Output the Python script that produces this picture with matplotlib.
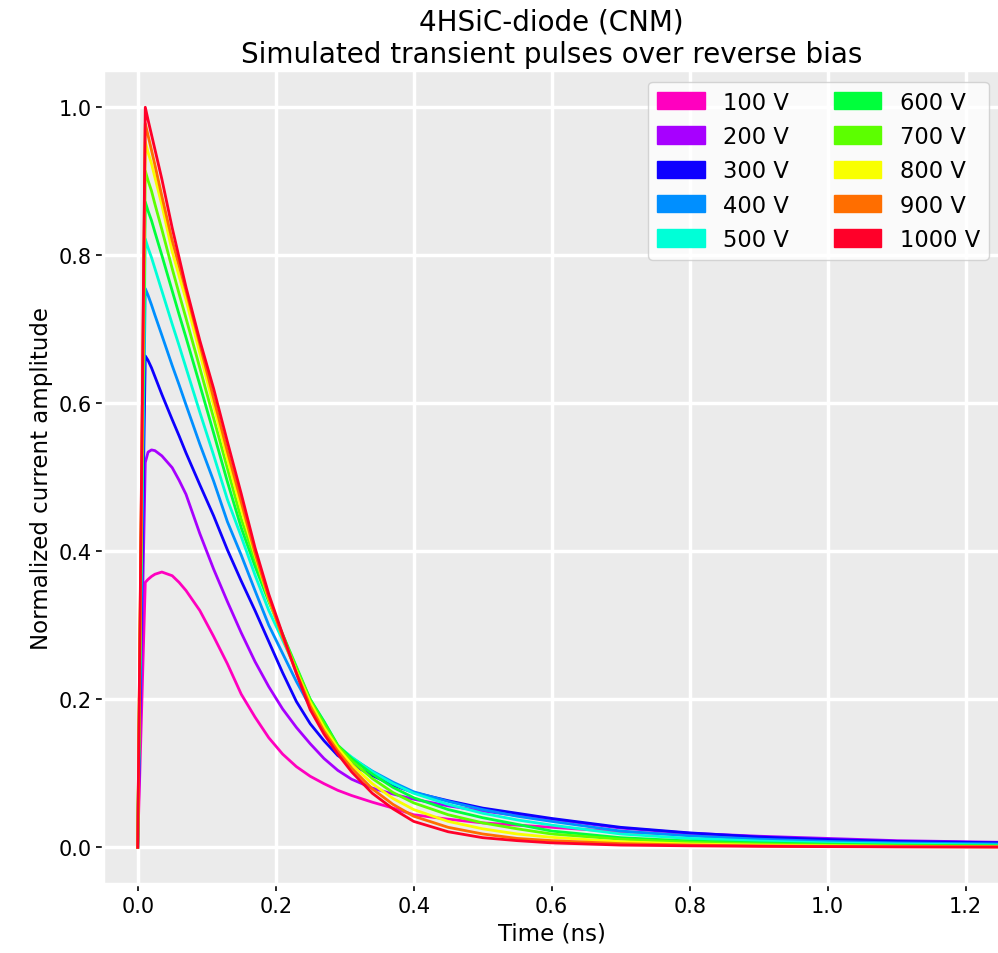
import matplotlib.pyplot as plt
import matplotlib.patches as mpatches
import numpy as np

plt.rcParams["font.family"] = ["DejaVu Sans"]

# values (time in ns, normalized amplitude)
time_ns = [0, 0.011, 0.015, 0.02, 0.025, 0.035, 0.05, 0.06, 0.07, 0.09, 0.11,
           0.13, 0.15, 0.17, 0.19, 0.21, 0.23, 0.25, 0.27, 0.29, 0.31, 0.34,
           0.37, 0.40, 0.45, 0.50, 0.55, 0.60, 0.70, 0.80, 0.90, 1.00, 1.10, 1.25]

amp_100v = [0, 0.358, 0.362, 0.366, 0.369, 0.372, 0.367, 0.358, 0.347, 0.320, 0.285,
            0.248, 0.207, 0.176, 0.148, 0.126, 0.109, 0.096, 0.086, 0.077, 0.070, 0.061,
            0.053, 0.044, 0.038, 0.033, 0.030, 0.027, 0.021, 0.0165, 0.013, 0.010, 0.008, 0.006]
amp_200v = [0, 0.520, 0.534, 0.537, 0.536, 0.529, 0.513, 0.496, 0.477, 0.424, 0.376,
            0.332, 0.290, 0.251, 0.217, 0.187, 0.162, 0.140, 0.120, 0.104, 0.092, 0.080,
            0.072, 0.065, 0.056, 0.049, 0.043, 0.038, 0.026, 0.019, 0.015, 0.012, 0.009, 0.0068]
amp_300v = [0, 0.664, 0.658, 0.648, 0.636, 0.612, 0.578, 0.556, 0.533, 0.490, 0.448,
            0.402, 0.360, 0.320, 0.278, 0.236, 0.197, 0.167, 0.144, 0.124, 0.112, 0.097,
            0.084, 0.074, 0.063, 0.053, 0.046, 0.039, 0.027, 0.0195, 0.014, 0.0105, 0.008, 0.0062]
amp_400v = [0, 0.755, 0.746, 0.733, 0.719, 0.692, 0.651, 0.625, 0.598, 0.545, 0.495,
            0.440, 0.395, 0.347, 0.300, 0.262, 0.224, 0.190, 0.163, 0.135, 0.121, 0.103,
            0.088, 0.075, 0.062, 0.051, 0.042, 0.035, 0.022, 0.0155, 0.011, 0.008, 0.006, 0.0045]
amp_500v = [0, 0.822, 0.810, 0.797, 0.782, 0.752, 0.707, 0.678, 0.648, 0.588, 0.530,
            0.470, 0.420, 0.368, 0.320, 0.280, 0.240, 0.200, 0.170, 0.137, 0.122, 0.102,
            0.086, 0.073, 0.058, 0.046, 0.037, 0.030, 0.018, 0.012, 0.0085, 0.006, 0.0045, 0.003]
amp_600v = [0, 0.872, 0.860, 0.847, 0.831, 0.800, 0.752, 0.720, 0.689, 0.625, 0.560,
            0.494, 0.432, 0.380, 0.332, 0.288, 0.244, 0.200, 0.170, 0.138, 0.120, 0.099,
            0.081, 0.067, 0.051, 0.040, 0.031, 0.022, 0.013, 0.0085, 0.006, 0.0042, 0.003, 0.002]
amp_700v = [0, 0.914, 0.901, 0.887, 0.869, 0.835, 0.782, 0.748, 0.715, 0.648, 0.580,
            0.512, 0.444, 0.389, 0.335, 0.287, 0.242, 0.199, 0.167, 0.137, 0.117, 0.093,
            0.074, 0.060, 0.044, 0.033, 0.025, 0.018, 0.011, 0.0068, 0.0045, 0.003, 0.002, 0.0013]
amp_800v = [0, 0.953, 0.939, 0.924, 0.905, 0.868, 0.805, 0.772, 0.740, 0.668, 0.597,
            0.525, 0.457, 0.395, 0.335, 0.285, 0.238, 0.196, 0.162, 0.134, 0.112, 0.086,
            0.066, 0.051, 0.035, 0.025, 0.018, 0.0135, 0.0075, 0.0045, 0.003, 0.002, 0.0013, 0.0008]
amp_900v = [0, 0.978, 0.962, 0.942, 0.922, 0.880, 0.820, 0.786, 0.752, 0.680, 0.607,
            0.535, 0.467, 0.398, 0.337, 0.284, 0.236, 0.191, 0.157, 0.130, 0.107, 0.079,
            0.058, 0.042, 0.027, 0.018, 0.012, 0.009, 0.005, 0.003, 0.002, 0.0012, 0.0008, 0.0005]
amp_1000v = [0, 1.000, 0.983, 0.963, 0.943, 0.903, 0.837, 0.797, 0.757, 0.685, 0.620,
             0.548, 0.478, 0.405, 0.342, 0.288, 0.235, 0.186, 0.153, 0.126, 0.102, 0.073,
             0.052, 0.035, 0.021, 0.013, 0.009, 0.006, 0.003, 0.002, 0.0013, 0.0009, 0.0006, 0.0003]

bias_labels = ["100 V", "200 V", "300 V", "400 V", "500 V",
               "600 V", "700 V", "800 V", "900 V", "1000 V"]

curves = [amp_100v, amp_200v, amp_300v, amp_400v, amp_500v,
          amp_600v, amp_700v, amp_800v, amp_900v, amp_1000v]
colors = plt.cm.gist_rainbow(np.linspace(1, 0, len(curves)))

fig = plt.figure(figsize=(9.98, 9.54), dpi=100)
ax = fig.add_axes([0.1034, 0.0720, 0.8988, 0.8533])
ax.set_facecolor("#ebebeb")
for s in ax.spines.values():
    s.set_color("white")
    s.set_linewidth(2.5)
ax.grid(True, color="white", linewidth=2.5)
ax.set_axisbelow(True)

for amp, c in zip(curves, colors):
    ax.plot(time_ns, amp, color=c, linewidth=2.0)

ax.set_xlim(-0.05, 1.25)
ax.set_ylim(-0.05, 1.05)
ax.tick_params(labelsize=15, length=5, width=1.2, color="black")
ax.set_xlabel("Time (ns)", fontsize=16.5)
ax.set_ylabel("Normalized current amplitude", fontsize=16.5)
ax.set_title("4HSiC-diode (CNM)\nSimulated transient pulses over reverse bias", fontsize=20)

# legend uses colour patches
handles = [mpatches.Patch(color=c, label=l) for c, l in zip(colors, bias_labels)]
ax.legend(handles=handles, ncol=2, loc="upper right", fontsize=16.3,
          handlelength=2.1, handleheight=0.8)

fig.savefig("out.png", dpi=100)
